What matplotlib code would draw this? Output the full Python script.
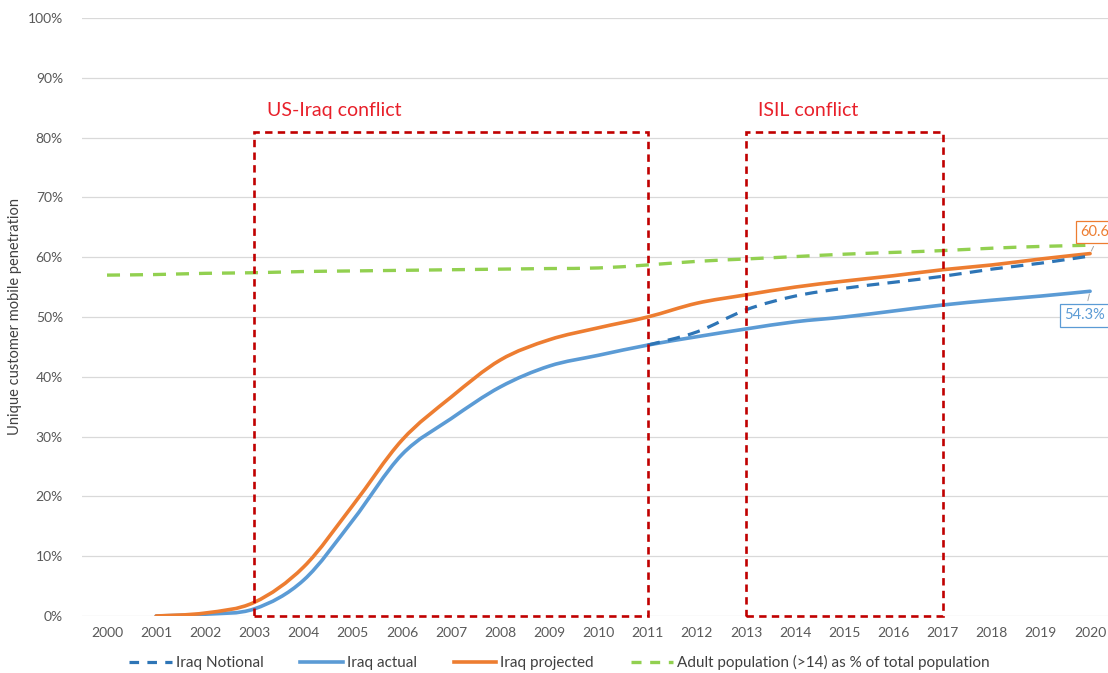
import matplotlib
matplotlib.use("Agg")
import matplotlib.pyplot as plt
from matplotlib.patches import Rectangle, PathPatch
from matplotlib.path import Path
from matplotlib.lines import Line2D
from matplotlib.ticker import PercentFormatter

plt.rcParams['font.family'] = ['Lato', 'DejaVu Sans']

years = list(range(2000, 2021))

# Penetration series (fraction of population)
actual_years = list(range(2001, 2021))
iraq_actual = [0.000, 0.003, 0.012, 0.060, 0.160, 0.270, 0.330, 0.383, 0.418, 0.436,
               0.453, 0.467, 0.480, 0.492, 0.500, 0.510, 0.520, 0.528, 0.535, 0.543]
iraq_projected = [0.000, 0.005, 0.023, 0.082, 0.185, 0.294, 0.366, 0.428, 0.462, 0.482,
                  0.500, 0.523, 0.537, 0.550, 0.560, 0.569, 0.579, 0.587, 0.597, 0.606]
notional_years = list(range(2011, 2021))
iraq_notional = [0.453, 0.475, 0.512, 0.535, 0.548, 0.558, 0.568, 0.580, 0.590, 0.602]
adult_share = [0.570, 0.571, 0.573, 0.574, 0.576, 0.577, 0.578, 0.579, 0.580, 0.581,
               0.582, 0.587, 0.593, 0.597, 0.601, 0.605, 0.608, 0.611, 0.615, 0.618, 0.620]

# Conflict periods: (label, start, end)
conflicts = [("US-Iraq conflict", 2003, 2011), ("ISIL conflict", 2013, 2017)]
box_top = 0.81

c_actual = "#5B9BD5"
c_proj = "#ED7D31"
c_notional = "#2E75B6"
c_adult = "#92D050"
c_box = "#C00000"


def smooth_path(xs, ys):
    """Cubic Bezier path through the points (spreadsheet-style smoothed line)."""
    pts = list(zip(xs, ys))
    n = len(pts)
    verts = [pts[0]]
    codes = [Path.MOVETO]
    for i in range(n - 1):
        p0 = pts[max(i - 1, 0)]
        p1 = pts[i]
        p2 = pts[i + 1]
        p3 = pts[min(i + 2, n - 1)]
        c1 = (p1[0] + (p2[0] - p0[0]) / 6, p1[1] + (p2[1] - p0[1]) / 6)
        c2 = (p2[0] - (p3[0] - p1[0]) / 6, p2[1] - (p3[1] - p1[1]) / 6)
        verts += [c1, c2, p2]
        codes += [Path.CURVE4] * 3
    return Path(verts, codes)


def add_series(ax, xs, ys, color, lw, dashes=None, z=4):
    ls = (0, dashes) if dashes else '-'
    patch = PathPatch(smooth_path(xs, ys), fill=False, edgecolor=color, lw=lw,
                      linestyle=ls, capstyle='round' if not dashes else 'butt',
                      joinstyle='round', zorder=z)
    ax.add_patch(patch)


fig = plt.figure(figsize=(11.08, 6.73), dpi=100)
ax = fig.add_axes([0.0744, 0.0847, 0.9316, 0.8886])

ax.set_xlim(1999.5, 2020.5)
ax.set_ylim(0, 1.0)
ax.set_yticks([i / 10 for i in range(11)])
ax.yaxis.set_major_formatter(PercentFormatter(1.0, decimals=0))
ax.set_xticks(years)
ax.set_xticklabels([str(y) for y in years])
ax.grid(axis='y', color='#D9D9D9', linewidth=0.9)
ax.set_axisbelow(True)
for s in ax.spines.values():
    s.set_visible(False)
ax.tick_params(length=0, labelsize=10, colors='#595959', pad=8)
ax.tick_params(axis='y', pad=14)
ax.set_ylabel("Unique customer mobile penetration", fontsize=10.5, color='#404040', labelpad=4)

add_series(ax, years, adult_share, c_adult, 2.4, dashes=(3.9, 3.0), z=3)
add_series(ax, actual_years, iraq_actual, c_actual, 2.6, z=4)
add_series(ax, actual_years, iraq_projected, c_proj, 2.6, z=4)
add_series(ax, notional_years, iraq_notional, c_notional, 2.3, dashes=(3.9, 2.6), z=5)

for label, start, end in conflicts:
    ax.add_patch(Rectangle((start, 0), end - start, box_top, fill=False, clip_on=False,
                           edgecolor=c_box, lw=1.9, linestyle=(0, (2.8, 2.0)), zorder=6))
    ax.text(start + 0.25, 0.845, label, color='#E8202A', fontsize=14, va='center', ha='left')

# End-of-series value labels
ax.annotate(f"{iraq_projected[-1]*100:.1f}%", xy=(actual_years[-1], iraq_projected[-1]),
            xytext=(2019.8, 0.642), fontsize=10.5, color=c_proj, ha='left', va='center',
            bbox=dict(boxstyle='square,pad=0.3', fc='white', ec=c_proj, lw=0.9),
            arrowprops=dict(arrowstyle='-', color='#A6A6A6', lw=0.7), zorder=8)
ax.annotate(f"{iraq_actual[-1]*100:.1f}%", xy=(actual_years[-1], iraq_actual[-1]),
            xytext=(2019.47, 0.503), fontsize=10.5, color=c_actual, ha='left', va='center',
            bbox=dict(boxstyle='square,pad=0.3', fc='white', ec=c_actual, lw=0.9),
            arrowprops=dict(arrowstyle='-', color='#A6A6A6', lw=0.7), zorder=8)

handles = [
    Line2D([], [], color=c_notional, lw=2.3, dashes=(3.0, 2.6)),
    Line2D([], [], color=c_actual, lw=2.6),
    Line2D([], [], color=c_proj, lw=2.6),
    Line2D([], [], color=c_adult, lw=2.4, dashes=(3.0, 2.6)),
]
labels = ["Iraq Notional", "Iraq actual", "Iraq projected",
          "Adult population (>14) as % of total population"]
fig.legend(handles, labels, loc='center', bbox_to_anchor=(0.505, 0.015), ncol=4,
           frameon=False, fontsize=11, handlelength=2.8, columnspacing=2.4,
           handletextpad=0.25, labelcolor='#404040')

fig.savefig("out.png", dpi=100)
